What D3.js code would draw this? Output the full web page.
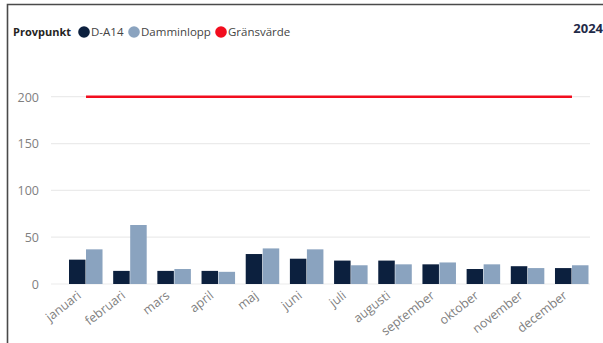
<!DOCTYPE html>
<html><head><meta charset="utf-8">
<script src="https://cdn.jsdelivr.net/npm/d3@7"></script>
<style>body{margin:0;background:#fff;overflow:hidden}svg{display:block}</style>
</head><body>
<script>
const months = ["januari","februari","mars","april","maj","juni","juli","augusti","september","oktober","november","december"];
const seriesNames = ["D-A14","Damminlopp"];
const dA14 = [26,14,14,14,32,27,25,25,21,16,19,17];
const damminlopp = [37,63,16,13,38,37,20,21,23,21,17,20];
const gransvarde = [200,200,200,200,200,200,200,200,200,200,200,200];
const yTicks = [0,50,100,150,200];
const legendTitle = "Provpunkt";
const legendItems = ["D-A14","Damminlopp","Gränsvärde"];
const yearLabel = "2024";

const W=603,H=343;
const colors = {"D-A14":"#0c203e","Damminlopp":"#8aa3bf","Gränsvärde":"#f20d1e"};
const font = "'Open Sans', 'Noto Sans', sans-serif";

const svg = d3.select("body").append("svg").attr("width",W).attr("height",H);
// frame
svg.append("path").attr("d","M7.5,343 V4.5 H603").attr("fill","none").attr("stroke","#4a4a4a").attr("stroke-width",1.6);

const x0 = d3.scaleBand().domain(months).range([69,589]).paddingInner(0.23).paddingOuter(0);
const x1 = d3.scaleBand().domain(seriesNames).range([0,x0.bandwidth()]).padding(0);
const y = d3.scaleLinear().domain([0,200]).range([284,96.7]);

// grid
svg.append("g").selectAll("line").data(yTicks).join("line")
  .attr("x1",51).attr("x2",590).attr("y1",d=>y(d)).attr("y2",d=>y(d))
  .attr("stroke","#ebebeb").attr("stroke-width",1.2);

// y axis
const yAxis = svg.append("g").attr("transform","translate(39,0)")
  .call(d3.axisLeft(y).tickValues(yTicks).tickSize(0).tickPadding(0));
yAxis.select(".domain").remove();
yAxis.selectAll("text").attr("font-family",font).attr("font-size",12.5).attr("fill","#808080").attr("dy","0.35em");

// bars
const data = months.map((m,i)=>({m, vals:[{k:"D-A14",v:dA14[i]},{k:"Damminlopp",v:damminlopp[i]}]}));
svg.append("g").selectAll("g").data(data).join("g")
  .attr("transform",d=>`translate(${x0(d.m)},0)`)
  .selectAll("rect").data(d=>d.vals).join("rect")
  .attr("x",d=>x1(d.k)).attr("width",x1.bandwidth()-0.5)
  .attr("y",d=>y(d.v)).attr("height",d=>y(0)-y(d.v))
  .attr("fill",d=>colors[d.k]);

// limit line
const line = d3.line().x((d,i)=>x0(months[i])+x0.bandwidth()/2).y(d=>y(d));
svg.append("path").datum(gransvarde).attr("d",line).attr("fill","none")
  .attr("stroke",colors["Gränsvärde"]).attr("stroke-width",2.5);

// x axis
const xAxis = svg.append("g").attr("transform",`translate(0,${y(0)})`)
  .call(d3.axisBottom(x0).tickSize(0).tickPadding(0));
xAxis.select(".domain").remove();
xAxis.selectAll("text").attr("font-family",font).attr("font-size",12.5).attr("fill","#808080")
  .attr("text-anchor","end").attr("dy",0)
  .attr("transform","translate(-4,13) rotate(-38)");

// legend
const lg = svg.append("g");
lg.append("text").attr("x",13).attr("y",36).text(legendTitle)
  .attr("font-family",font).attr("font-size",11).attr("font-weight","bold").attr("fill","#252423");
const lx = [84,134,221];
legendItems.forEach((t,i)=>{
  lg.append("circle").attr("cx",lx[i]).attr("cy",32).attr("r",5.8).attr("fill",colors[t]);
  lg.append("text").attr("x",lx[i]+7).attr("y",36).text(t)
    .attr("font-family",font).attr("font-size",11.5).attr("fill","#444");
});
svg.append("text").attr("x",603).attr("y",33).attr("text-anchor","end").text(yearLabel)
  .attr("font-family",font).attr("font-size",13).attr("font-weight","bold").attr("fill","#1f2a48");
</script>
</body></html>
